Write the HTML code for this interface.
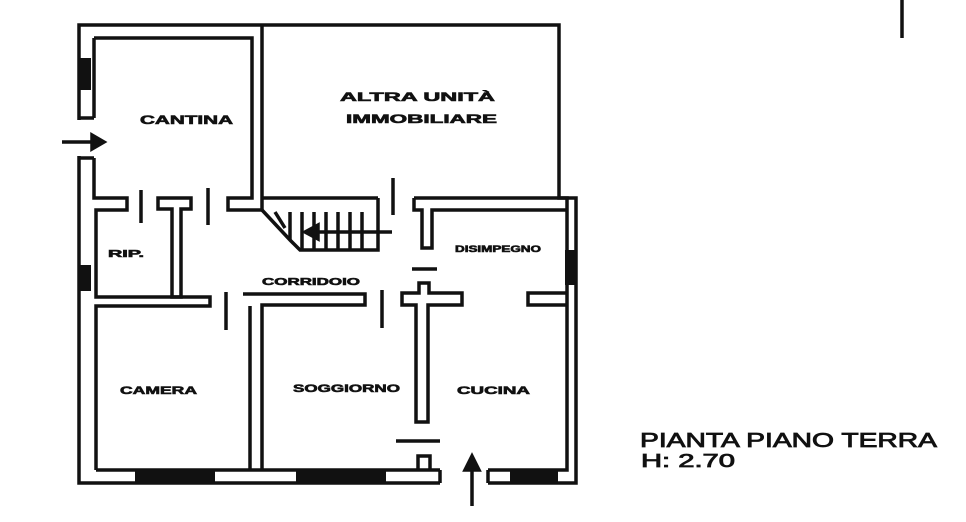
<!DOCTYPE html>
<html><head><meta charset="utf-8"><style>
html,body{margin:0;padding:0;background:#fff;width:966px;height:522px;overflow:hidden}
svg{display:block}
text{font-family:"Liberation Sans",sans-serif;font-weight:bold;fill:#111}
</style></head><body>
<svg width="966" height="522" viewBox="0 0 966 522" xmlns="http://www.w3.org/2000/svg">
<g fill="none" stroke="#111" stroke-width="3.5" stroke-linejoin="miter">
<path d="M79,25 H559 V198 H576 V483 H79 Z"/>
<path d="M94,38 H252 V198 H228 V210 H262 V25"/>
<path d="M94,38 V118"/>
<path d="M94,158 V198 H127 V210 H96 V297 H210 V306 H96 V470"/>
<path d="M158,198 H191 V209 H181 V297 H172 V209 H158 Z"/>
<path d="M262,198 H378"/>
<path d="M262,210 L290,240 L300,250 H378 V198"/>
<path d="M414,198 H567 V470 H96"/>
<path d="M414,198 V210 H422 V248 H432 V210 H567"/>
<path d="M243,294 H365 V305 H262 V470 M250,306 V470"/>
<path d="M419,283 H429 V293 H462 V305 H428 V422 H416 V305 H402 V293 H419 Z"/>
<path d="M567,293 H528 V305 H567"/>
<path d="M418,470 V456 H430 V470"/>
</g>
<rect x="77" y="120" width="20" height="36" fill="#fff"/>
<path d="M94,118 H80 M94,158 H80" stroke="#111" stroke-width="3.5"/>
<rect x="440" y="468" width="48" height="17" fill="#fff"/>
<path d="M440,470 V483 M488,470 V483" stroke="#111" stroke-width="3.5"/>
<g stroke="#111" stroke-width="3.5">
<line x1="290" y1="212" x2="290" y2="240"/><line x1="302" y1="212" x2="302" y2="250"/>
<line x1="314" y1="212" x2="314" y2="250"/><line x1="326" y1="212" x2="326" y2="250"/>
<line x1="338" y1="212" x2="338" y2="250"/><line x1="350" y1="212" x2="350" y2="250"/>
<line x1="362" y1="212" x2="362" y2="250"/><line x1="275" y1="212" x2="285" y2="228"/>
<line x1="305" y1="232" x2="392" y2="232"/>
<path d="M305,232 L318,225 L318,239 Z" fill="#111"/>
<line x1="141" y1="190" x2="141" y2="223"/><line x1="208" y1="188" x2="208" y2="225"/>
<line x1="393" y1="178" x2="393" y2="215"/><line x1="226" y1="292" x2="226" y2="330"/>
<line x1="382" y1="290" x2="382" y2="328"/><line x1="412" y1="269" x2="437" y2="269"/>
<line x1="396" y1="441" x2="440" y2="441"/>
<line x1="62" y1="142" x2="100" y2="142"/>
<path d="M104,142 L92,135 L92,149 Z" fill="#111"/>
<line x1="472" y1="462" x2="472" y2="506"/>
<path d="M472,456 L465,470 L479,470 Z" fill="#111"/>
<line x1="902" y1="0" x2="902" y2="38"/>
</g>
<g fill="#111">
<rect x="79" y="58" width="12" height="32"/>
<rect x="79" y="265" width="12" height="26"/>
<rect x="565" y="250" width="12" height="35"/>
<rect x="135" y="470" width="80" height="13"/>
<rect x="296" y="470" width="90" height="13"/>
<rect x="510" y="470" width="48" height="13"/>
</g>
<g font-size="12" stroke="#111" stroke-width="0.6" lengthAdjust="spacingAndGlyphs">
<text x="140" y="124" textLength="93" lengthAdjust="spacingAndGlyphs">CANTINA</text>
<text x="340" y="101" textLength="155" lengthAdjust="spacingAndGlyphs">ALTRA      UNITÀ</text>
<text x="346" y="123" textLength="151" lengthAdjust="spacingAndGlyphs">IMMOBILIARE</text>
<text x="108" y="257" font-size="10" textLength="36" lengthAdjust="spacingAndGlyphs">RIP.</text>
<text x="262" y="285" font-size="10" textLength="98" lengthAdjust="spacingAndGlyphs">CORRIDOIO</text>
<text x="455" y="252" font-size="9" textLength="86" lengthAdjust="spacingAndGlyphs">DISIMPEGNO</text>
<text x="120" y="394" font-size="11" textLength="77" lengthAdjust="spacingAndGlyphs">CAMERA</text>
<text x="293" y="392" font-size="11" textLength="107" lengthAdjust="spacingAndGlyphs">SOGGIORNO</text>
<text x="457" y="394" font-size="11" textLength="73" lengthAdjust="spacingAndGlyphs">CUCINA</text>
</g>
<text x="640" y="447" font-size="20" style="font-weight:normal" stroke="#111" stroke-width="0.8" textLength="297" lengthAdjust="spacingAndGlyphs">PIANTA PIANO TERRA</text>
<text x="641" y="467" font-size="18" style="font-weight:normal" stroke="#111" stroke-width="0.8" textLength="94" lengthAdjust="spacingAndGlyphs">H: 2.70</text>
</svg>
</body></html>
